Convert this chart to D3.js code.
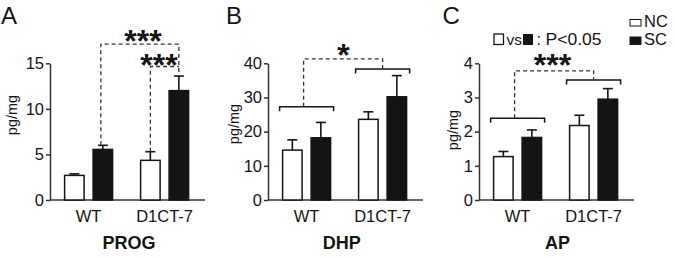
<!DOCTYPE html>
<html><head><meta charset="utf-8">
<script src="https://cdn.jsdelivr.net/npm/d3@7"></script>
<style>
html,body{margin:0;padding:0;background:#fff;}
svg{display:block;font-family:"Liberation Sans",Arial,Helvetica,sans-serif;}
</style></head>
<body>
<svg id="chart" width="675" height="258"></svg>
<script>
// ---- data ----
const groups = ["WT", "D1CT-7"];
const series = ["NC", "SC"];
const panelLetters = ["A", "B", "C"];
const panelTitles = ["PROG", "DHP", "AP"];
const yMax = [15, 40, 4];
const yTicks = [[0, 5, 10, 15], [0, 10, 20, 30, 40], [0, 1, 2, 3, 4]];
// means per group [WT, D1CT-7]
const progNC = [2.7, 4.35];
const progNCerr = [0.17, 0.95];
const progSC = [5.55, 12.0];
const progSCerr = [0.45, 1.6];
const dhpNC = [14.6, 23.6];
const dhpNCerr = [3.0, 2.2];
const dhpSC = [18.2, 30.2];
const dhpSCerr = [4.5, 6.2];
const apNC = [1.27, 2.18];
const apNCerr = [0.15, 0.3];
const apSC = [1.83, 2.95];
const apSCerr = [0.22, 0.31];
const starsLabel = ["***", "*", "***"];
const legendText = ["NC", "SC"];
const noteText = ["vs", ":", "P<0.05"];

const panelData = [
  {nc: progNC, ncErr: progNCerr, sc: progSC, scErr: progSCerr},
  {nc: dhpNC, ncErr: dhpNCerr, sc: dhpSC, scErr: dhpSCerr},
  {nc: apNC, ncErr: apNCerr, sc: apSC, scErr: apSCerr}
];

// ---- layout ----
const svg = d3.select("#chart");
const x0s = [50, 268, 479];
const yBottom = 200, yTop = 63.3;
const axisLen = 155;
const ink = "#141414";
const axisCol = "#333";
const font = '"Liberation Sans",Arial,Helvetica,sans-serif';

panelData.forEach((pd, pi) => {
  const x0 = x0s[pi];
  const g = svg.append("g");
  const y = d3.scaleLinear().domain([0, yMax[pi]]).range([yBottom, yTop]);
  const xg = d3.scalePoint().domain(groups).range([x0 + 38.6, x0 + 114.6]);
  const xs = d3.scaleBand().domain(series).range([-24, 24]).paddingInner(0.316);

  // y axis
  const ya = g.append("g").attr("transform", `translate(${x0},0)`)
    .call(d3.axisLeft(y).tickValues(yTicks[pi]).tickFormat(d3.format("d"))
      .tickSize(4).tickSizeOuter(0).tickPadding(2));
  ya.select(".domain").attr("stroke", axisCol).attr("stroke-width", 1.5);
  ya.selectAll(".tick line").attr("stroke", axisCol).attr("stroke-width", 1.5);
  ya.selectAll(".tick text").attr("font-size", 16.5).attr("fill", ink).attr("font-family", font);

  // x axis line
  g.append("line").attr("x1", x0).attr("x2", x0 + axisLen)
    .attr("y1", yBottom).attr("y2", yBottom)
    .attr("stroke", axisCol).attr("stroke-width", 1.5);
  groups.forEach(gr => {
    g.append("text").attr("x", xg(gr)).attr("y", 221.5)
      .attr("text-anchor", "middle").attr("font-size", 16.5).attr("fill", ink)
      .text(gr);
  });

  // bars
  const bars = [];
  groups.forEach((gr, gi) => {
    bars.push({g: gr, s: "NC", v: pd.nc[gi], e: pd.ncErr[gi]});
    bars.push({g: gr, s: "SC", v: pd.sc[gi], e: pd.scErr[gi]});
  });
  bars.forEach(b => {
    const bx = xg(b.g) + xs(b.s);
    const cx = bx + xs.bandwidth() / 2;
    g.append("line").attr("x1", cx).attr("x2", cx)
      .attr("y1", y(b.v)).attr("y2", y(b.v + b.e))
      .attr("stroke", ink).attr("stroke-width", 1.6);
    g.append("line").attr("x1", cx - 5).attr("x2", cx + 5)
      .attr("y1", y(b.v + b.e)).attr("y2", y(b.v + b.e))
      .attr("stroke", ink).attr("stroke-width", 1.6);
    g.append("rect").attr("x", bx).attr("y", y(b.v))
      .attr("width", xs.bandwidth()).attr("height", yBottom - y(b.v))
      .attr("fill", b.s === "NC" ? "#fff" : ink)
      .attr("stroke", ink).attr("stroke-width", 1.5);
  });

  const dash = (pts) => g.append("path")
    .attr("d", d3.line()(pts)).attr("fill", "none")
    .attr("stroke", "#333").attr("stroke-width", 1.3).attr("stroke-dasharray", "4,3");
  const solid = (pts) => g.append("path")
    .attr("d", d3.line()(pts)).attr("fill", "none")
    .attr("stroke", ink).attr("stroke-width", 1.5);
  const star = (txt, x, yy) => g.append("text").attr("x", x).attr("y", yy)
    .attr("text-anchor", "middle").attr("font-size", 32).attr("font-weight", "bold")
    .attr("fill", ink).text(txt);
  const cxOf = (gr, s) => xg(gr) + xs(s) + xs.bandwidth() / 2;

  if (pi === 0) {
    const capWTSC = y(pd.sc[0] + pd.scErr[0]);
    const capDNC = y(pd.nc[1] + pd.ncErr[1]);
    const capDSC = y(pd.sc[1] + pd.scErr[1]);
    const top1 = y(17.1), top2 = y(14.65);
    dash([[cxOf("WT", "SC") - 2, capWTSC], [cxOf("WT", "SC") - 2, top1],
          [cxOf("D1CT-7", "SC"), top1], [cxOf("D1CT-7", "SC"), capDSC]]);
    dash([[cxOf("D1CT-7", "NC"), capDNC], [cxOf("D1CT-7", "NC"), top2],
          [cxOf("D1CT-7", "SC"), top2]]);
    star(starsLabel[0], 143, 51.5);
    star(starsLabel[0], 159, 76);
  } else {
    const lowB = pi === 1 ? 27.3 : 2.39;
    const highB = pi === 1 ? 38.3 : 3.51;
    const topD = pi === 1 ? 41.3 : 3.78;
    const half = 27;
    const wtC = xg("WT"), dC = xg("D1CT-7");
    solid([[wtC - half, y(lowB) + 4.5], [wtC - half, y(lowB)], [wtC + half, y(lowB)], [wtC + half, y(lowB) + 4.5]]);
    solid([[dC - half, y(highB) + 4.5], [dC - half, y(highB)], [dC + half, y(highB)], [dC + half, y(highB) + 4.5]]);
    dash([[wtC - 3, y(lowB)], [wtC - 3, y(topD)], [dC, y(topD)], [dC, y(highB)]]);
    if (pi === 1) star(starsLabel[1], 343.5, 65.5);
    else star(starsLabel[2], 552.5, 76);
  }

  // y label
  const ylabY = [115, 124, 130][pi];
  const ylabX = [17, 238.5, 457.5][pi];
  g.append("text").attr("transform", `translate(${ylabX},${ylabY}) rotate(-90)`)
    .attr("text-anchor", "middle").attr("font-size", 14.5).attr("fill", ink).text("pg/mg");

  // panel letter
  const letX = [1, 226, 442.5][pi];
  g.append("text").attr("x", letX).attr("y", 23.5).attr("font-size", 24)
    .attr("fill", ink).text(panelLetters[pi]);

  // title
  const titX = [129, 341.7, 557.5][pi];
  g.append("text").attr("x", titX).attr("y", 248.5).attr("text-anchor", "middle")
    .attr("font-size", 18).attr("font-weight", "bold").attr("fill", ink).text(panelTitles[pi]);
});

// legend
const lg = svg.append("g");
series.forEach((s, i) => {
  lg.append("rect").attr("x", 630).attr("y", [19.5, 37][i]).attr("width", 11).attr("height", [6.5, 7.5][i])
    .attr("fill", s === "NC" ? "#fff" : ink).attr("stroke", ink).attr("stroke-width", 1);
  lg.append("text").attr("x", 644).attr("y", [26.5, 45][i]).attr("font-size", 16.5)
    .attr("fill", ink).text(legendText[i]);
});
// note: open vs filled P<0.05
lg.append("rect").attr("x", 494).attr("y", 34).attr("width", 9.5).attr("height", 10.5)
  .attr("fill", "#fff").attr("stroke", ink).attr("stroke-width", 1.3);
lg.append("text").attr("x", 506.5).attr("y", 44.5).attr("font-size", 15.5).attr("fill", ink).text(noteText[0]);
lg.append("rect").attr("x", 523).attr("y", 34).attr("width", 10).attr("height", 11)
  .attr("fill", ink);
lg.append("text").attr("x", 536.5).attr("y", 44.5).attr("font-size", 16).attr("fill", ink).text(noteText[1]);
lg.append("text").attr("x", 545.5).attr("y", 44.5).attr("font-size", 16).attr("fill", ink)
  .attr("textLength", 56).attr("lengthAdjust", "spacingAndGlyphs").text(noteText[2]);
</script>
</body></html>
